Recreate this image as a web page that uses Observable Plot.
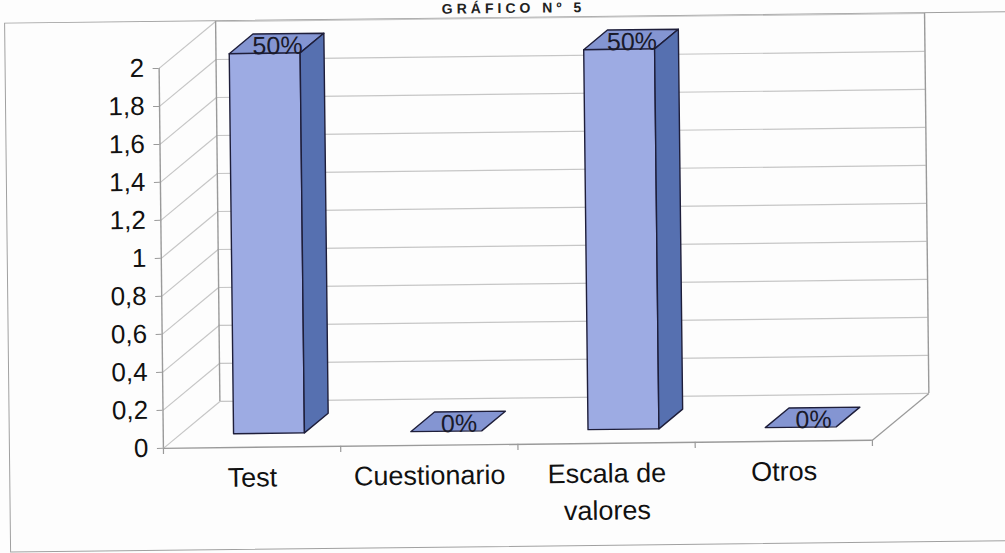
<!DOCTYPE html>
<html>
<head>
<meta charset="utf-8">
<script src="https://cdn.jsdelivr.net/npm/d3@7"></script>
<script src="https://cdn.jsdelivr.net/npm/@observablehq/plot@0.6"></script>
<style>
html, body { margin: 0; padding: 0; background: #fdfdfd; overflow: hidden; }
#wrap { position: relative; width: 1005px; height: 553px; transform: rotate(-0.65deg); transform-origin: 502px 276px; }
#frame { position: absolute; left: 7px; top: 17px; width: 1020px; height: 530px; border: 1.5px solid #a0a0a0; box-sizing: border-box; }
#title { position: absolute; left: 14px; width: 1005px; top: 1px; text-align: center; font: bold 14px "Liberation Sans", Arial, sans-serif; line-height: 14px; letter-spacing: 4px; color: #222; }
#chart { position: absolute; left: 0; top: 0; }
</style>
</head>
<body>
<div id="wrap">
  <div id="title">GRÁFICO Nº 5</div>
  <div id="frame"></div>
  <div id="chart"></div>
</div>
<script>
// ---- data ----
const categories = ["Test", "Cuestionario", "Escala de\nvalores", "Otros"];
const values = [2, 0, 2, 0];
const percentLabels = ["50%", "0%", "50%", "0%"];
const yTicks = [0, 0.2, 0.4, 0.6, 0.8, 1, 1.2, 1.4, 1.6, 1.8, 2];

// ---- 3D styling (depth offsets in scale units) ----
const DX = 0.3216, DY = 0.2434;   // depth of the walls
const HALF = 0.2;                  // half bar width (fraction of category band)
const F0 = 0.3, F1 = 0.72;         // bar front / back position inside the depth
const TICK = 0.032;                // category tick length
const nCat = categories.length;
const yMax = d3.max(yTicks);

const idx = d3.range(nCat);
const faces = {front: [], side: [], top: []};
idx.forEach(i => {
  const c = i + 0.5, v = values[i];
  const xl = c - HALF, xr = c + HALF;
  if (v > 0) {
    [[xl + F0*DX, F0*DY], [xr + F0*DX, F0*DY], [xr + F0*DX, v + F0*DY], [xl + F0*DX, v + F0*DY]]
      .forEach(([x, y]) => faces.front.push({id: i, x, y}));
    [[xr + F0*DX, F0*DY], [xr + F1*DX, F1*DY], [xr + F1*DX, v + F1*DY], [xr + F0*DX, v + F0*DY]]
      .forEach(([x, y]) => faces.side.push({id: i, x, y}));
  }
  [[xl + F0*DX, v + F0*DY], [xr + F0*DX, v + F0*DY], [xr + F1*DX, v + F1*DY], [xl + F1*DX, v + F1*DY]]
    .forEach(([x, y]) => faces.top.push({id: i, x, y}));
});

const fmt = d => String(+d.toFixed(1)).replace(".", ",");
const font = '"Liberation Sans", Arial, sans-serif';
const grid = "#c6c6c6", edge = "#9a9a9a", outline = "#1e1e3a";

const chart = Plot.plot({
  width: 1005,
  height: 553,
  marginLeft: 161,
  marginRight: 135,
  marginTop: 64,
  marginBottom: 109,
  x: {domain: [0, nCat], axis: null},
  y: {domain: [0, yMax], axis: null},
  style: {fontFamily: font, background: "transparent", overflow: "visible", color: "#111"},
  marks: [
    // back wall gridlines
    Plot.ruleY(yTicks, {y: d => d + DY, x1: DX, x2: nCat + DX, stroke: grid, strokeWidth: 1.2}),
    // side wall diagonals
    Plot.link(yTicks, {x1: 0, y1: d => d, x2: DX, y2: d => d + DY, stroke: grid, strokeWidth: 1.2}),
    // wall edges
    Plot.ruleX([DX, nCat + DX], {y1: DY, y2: yMax + DY, stroke: edge, strokeWidth: 1.4}),
    Plot.link([nCat], {x1: d => d, y1: 0, x2: d => d + DX, y2: DY, stroke: edge, strokeWidth: 1.2}),
    // front axes
    Plot.ruleY([0], {x1: 0, x2: nCat, stroke: edge, strokeWidth: 1.4}),
    Plot.ruleX([0], {y1: 0, y2: yMax, stroke: edge, strokeWidth: 1.4}),
    Plot.ruleX(d3.range(nCat + 1), {y1: 0, y2: -TICK, stroke: edge, strokeWidth: 1.2}),
    Plot.axisY(yTicks, {tickFormat: fmt, tickSize: 6, tickPadding: 9, fontSize: 26, stroke: edge, fill: "#111", label: null}),
    // bars
    Plot.line(faces.top, {x: "x", y: "y", z: "id", curve: "linear-closed", fill: "#8495d2", stroke: outline, strokeWidth: 1.4}),
    Plot.line(faces.front, {x: "x", y: "y", z: "id", curve: "linear-closed", fill: "#9dabe3", stroke: outline, strokeWidth: 1.4}),
    Plot.line(faces.side, {x: "x", y: "y", z: "id", curve: "linear-closed", fill: "#5670b0", stroke: outline, strokeWidth: 1.4}),
    // data labels
    Plot.text(idx, {x: i => i + 0.5, y: i => values[i], text: i => percentLabels[i], dx: 30, dy: -21, fontSize: 25, fill: "#1a1a2a"}),
    // category labels
    Plot.text(idx, {x: i => i + 0.5, y: 0, text: i => categories[i], lineAnchor: "top", dy: 13, fontSize: 27, lineHeight: 1.37, fill: "#111"})
  ]
});
document.getElementById("chart").appendChild(chart);
</script>
</body>
</html>
